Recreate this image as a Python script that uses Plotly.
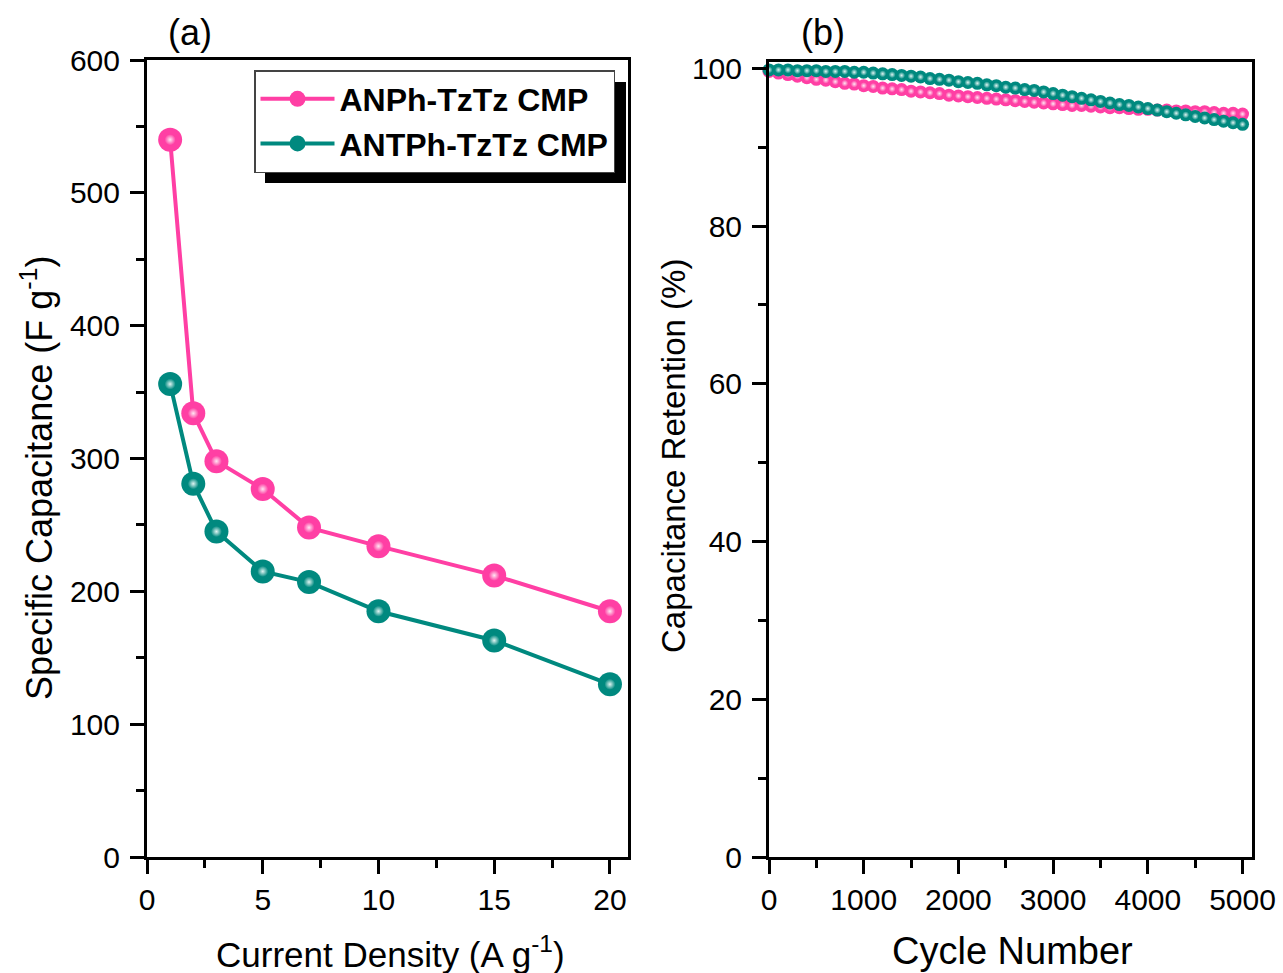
import plotly.graph_objects as go

W, H = 1283, 973


def px(x):
    return x / W


def py(y):
    return 1 - y / H


# ---------------- data ----------------
current_density = [1, 2, 3, 5, 7, 10, 15, 20]
cap_anph = [540, 334, 298, 277, 248, 234, 212, 185]
cap_antph = [356, 281, 245, 215, 207, 185, 163, 130]

cycles = [0, 100, 200, 300, 400, 500, 600, 700, 800, 900,
          1000, 1100, 1200, 1300, 1400, 1500, 1600, 1700, 1800, 1900,
          2000, 2100, 2200, 2300, 2400, 2500, 2600, 2700, 2800, 2900,
          3000, 3100, 3200, 3300, 3400, 3500, 3600, 3700, 3800, 3900,
          4000, 4100, 4200, 4300, 4400, 4500, 4600, 4700, 4800, 4900,
          5000]
ret_anph = [99.6, 99.4, 99.2, 99.0, 98.8, 98.6, 98.5, 98.3, 98.1, 98.0,
            97.8, 97.7, 97.5, 97.4, 97.3, 97.1, 97.0, 96.9, 96.8, 96.6,
            96.5, 96.4, 96.3, 96.2, 96.1, 96.0, 95.9, 95.8, 95.7, 95.6,
            95.5, 95.4, 95.3, 95.3, 95.2, 95.1, 95.0, 95.0, 94.9, 94.8,
            94.8, 94.7, 94.7, 94.6, 94.6, 94.5, 94.5, 94.4, 94.3, 94.3,
            94.2]
ret_antph = [99.8, 99.8, 99.8, 99.7, 99.7, 99.7, 99.6, 99.6, 99.6, 99.5,
             99.5, 99.4, 99.3, 99.2, 99.1, 99.0, 98.9, 98.7, 98.6, 98.5,
             98.3, 98.2, 98.1, 97.9, 97.8, 97.6, 97.5, 97.3, 97.2, 97.0,
             96.8, 96.6, 96.4, 96.2, 96.0, 95.8, 95.6, 95.4, 95.3, 95.1,
             94.9, 94.7, 94.5, 94.3, 94.1, 93.9, 93.7, 93.5, 93.3, 93.1,
             92.9]

names = ["ANPh-TzTz CMP", "ANTPh-TzTz CMP"]
PINK = "#FF3FA4"
TEAL = "#00897F"
PINK_HI = "#FFE6F2"
TEAL_HI = "#E0F4F2"

FONT = "Liberation Sans, Arial, Helvetica, sans-serif"

fig = go.Figure()

# ---------------- panel (a) ----------------
for yv, col, hi, nm in [(cap_anph, PINK, PINK_HI, names[0]),
                        (cap_antph, TEAL, TEAL_HI, names[1])]:
    fig.add_trace(go.Scatter(
        x=current_density, y=yv, name=nm, mode="lines+markers",
        line=dict(color=col, width=4),
        marker=dict(color=col, size=24, line=dict(width=0)),
        xaxis="x", yaxis="y", showlegend=True, cliponaxis=False))
    fig.add_trace(go.Scatter(
        x=current_density, y=yv, mode="markers", hoverinfo="skip",
        marker=dict(color=col, size=11, line=dict(width=0),
                    gradient=dict(type="radial", color=hi)),
        xaxis="x", yaxis="y", showlegend=False, cliponaxis=False))

# ---------------- panel (b) ----------------
for yv, col, hi, nm in [(ret_anph, PINK, PINK_HI, names[0]),
                        (ret_antph, TEAL, TEAL_HI, names[1])]:
    fig.add_trace(go.Scatter(
        x=cycles, y=yv, name=nm, mode="lines+markers",
        line=dict(color=col, width=2),
        marker=dict(color=col, size=13, line=dict(width=0)),
        xaxis="x2", yaxis="y2", showlegend=False, cliponaxis=False))
    fig.add_trace(go.Scatter(
        x=cycles, y=yv, mode="markers", hoverinfo="skip",
        marker=dict(color=col, size=7, line=dict(width=0),
                    gradient=dict(type="radial", color=hi)),
        xaxis="x2", yaxis="y2", showlegend=False, cliponaxis=False))

axis_common = dict(
    showline=True, linewidth=3, linecolor="black", mirror=True,
    ticks="outside", ticklen=14, tickwidth=3, tickcolor="black",
    showgrid=False, zeroline=False, automargin=False,
    tickfont=dict(family=FONT, size=30, color="black"),
)


def minor(dt):
    return dict(ticks="outside", ticklen=8, tickwidth=3, tickcolor="black",
                dtick=dt, tick0=0, showgrid=False)


fig.update_layout(
    template="none",
    width=W, height=H, autosize=False,
    margin=dict(l=0, r=0, t=0, b=0, pad=0),
    paper_bgcolor="white", plot_bgcolor="white",
    font=dict(family=FONT, color="black"),
    xaxis=dict(domain=[px(147), px(628)], range=[0, 20.78],
               tickvals=[0, 5, 10, 15, 20], minor=minor(2.5), anchor="y",
               ticklabelstandoff=0, **axis_common),
    yaxis=dict(domain=[py(857), py(60)], range=[0, 600],
               tickvals=[0, 100, 200, 300, 400, 500, 600], minor=minor(50),
               anchor="x", ticklabelstandoff=4, **axis_common),
    xaxis2=dict(domain=[px(769), px(1252)], range=[0, 5100],
                tickvals=[0, 1000, 2000, 3000, 4000, 5000], minor=minor(500),
                anchor="y2", ticklabelstandoff=0, **axis_common),
    yaxis2=dict(domain=[py(857), py(62)], range=[0, 100.8],
                tickvals=[0, 20, 40, 60, 80, 100], minor=minor(10),
                anchor="x2", ticklabelstandoff=4, **axis_common),
    legend=dict(x=px(254), y=py(70), xanchor="left", yanchor="top",
                bgcolor="white", bordercolor="#444", borderwidth=1.5,
                font=dict(family=FONT, size=32, color="black", weight="bold"),
                itemwidth=74, tracegroupgap=0),
    showlegend=True,
)

# legend shadow (decoration)
fig.add_shape(type="rect", xref="paper", yref="paper",
              x0=px(265), x1=px(626), y0=py(183), y1=py(82),
              fillcolor="black", line=dict(width=0), layer="above")

ann = []
ann.append(dict(text="Current Density (A g<sup>-1</sup>)", x=px(390), y=py(952),
                xref="paper", yref="paper", showarrow=False,
                font=dict(family=FONT, size=35, color="black"),
                xanchor="center", yanchor="middle"))
ann.append(dict(text="Specific Capacitance (F g<sup>-1</sup>)", x=px(37), y=py(478),
                xref="paper", yref="paper", showarrow=False, textangle=-90,
                font=dict(family=FONT, size=36, color="black"),
                xanchor="center", yanchor="middle"))
ann.append(dict(text="Cycle Number", x=px(1012), y=py(951),
                xref="paper", yref="paper", showarrow=False,
                font=dict(family=FONT, size=38, color="black"),
                xanchor="center", yanchor="middle"))
ann.append(dict(text="Capacitance Retention (%)", x=px(673), y=py(456),
                xref="paper", yref="paper", showarrow=False, textangle=-90,
                font=dict(family=FONT, size=33, color="black"),
                xanchor="center", yanchor="middle"))
ann.append(dict(text="(a)", x=px(190), y=py(32),
                xref="paper", yref="paper", showarrow=False,
                font=dict(family=FONT, size=36, color="black"),
                xanchor="center", yanchor="middle"))
ann.append(dict(text="(b)", x=px(823), y=py(32),
                xref="paper", yref="paper", showarrow=False,
                font=dict(family=FONT, size=36, color="black"),
                xanchor="center", yanchor="middle"))
fig.update_layout(annotations=ann)

fig.write_html("out.html")
